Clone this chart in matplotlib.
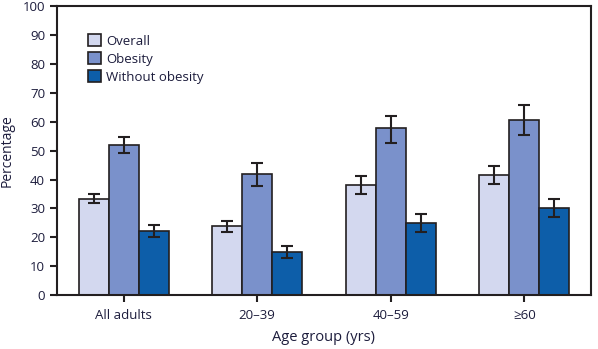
import numpy as np
import matplotlib
matplotlib.use('Agg')
from matplotlib import pyplot as plt
from matplotlib.patches import Patch

groups = ['All adults', '20\u201339', '40\u201359', '\u226560']
series = ['Overall', 'Obesity', 'Without obesity']
overall = [33.2, 24.0, 38.1, 41.5]
overall_lo = [31.8, 21.8, 34.9, 38.4]
overall_hi = [35.0, 25.7, 41.2, 44.6]
obesity = [52.1, 41.9, 57.9, 60.8]
obesity_lo = [49.1, 37.7, 52.6, 55.4]
obesity_hi = [54.7, 45.7, 61.9, 65.7]
without = [22.1, 15.0, 25.0, 30.1]
without_lo = [20.1, 12.8, 21.8, 27.0]
without_hi = [24.4, 17.0, 28.0, 33.2]

colors = ['#d3d8ef', '#7a91cb', '#0d5ea9']
txt = '#1c1c3c'
edge = '#231f20'

plt.rcParams['font.family'] = ['Open Sans', 'DejaVu Sans']

fig = plt.figure(figsize=(5.98, 3.49), dpi=100)
ax = fig.add_axes([0.0953, 0.1547, 0.8930, 0.8267])

x = np.arange(len(groups))
w = 0.225
data = [(overall, overall_lo, overall_hi),
        (obesity, obesity_lo, obesity_hi),
        (without, without_lo, without_hi)]
for i, (vals, lo, hi) in enumerate(data):
    vals = np.array(vals)
    err = [vals - np.array(lo), np.array(hi) - vals]
    ax.bar(x + (i - 1) * w, vals, w, color=colors[i], edgecolor=edge, linewidth=1.2,
           yerr=err, capsize=4.5, error_kw=dict(ecolor=edge, elinewidth=1.5, capthick=1.5),
           zorder=2)

ax.set_xlim(-0.5, 3.5)
ax.set_ylim(0, 100)
ax.set_yticks(range(0, 101, 10))
ax.set_xticks(x)
ax.set_xticklabels(groups)
for s in ax.spines.values():
    s.set_color(edge)
    s.set_linewidth(1.5)
ax.tick_params(axis='both', colors=edge, width=1.5, length=5, labelsize=9.5, labelcolor=txt)
ax.tick_params(axis='x', pad=5)
ax.set_ylabel('Percentage', fontsize=10, color=txt, labelpad=6)
ax.set_xlabel('Age group (yrs)', fontsize=10.5, color=txt, labelpad=6)

handles = [Patch(facecolor=c, edgecolor=edge, linewidth=1.2) for c in colors]
ax.legend(handles, series, loc='upper left', bbox_to_anchor=(0.035, 0.945), frameon=False,
          fontsize=9.5, labelcolor=txt, handlelength=1.0, handleheight=1.0,
          handletextpad=0.4, labelspacing=0.35)

fig.savefig('out.png', dpi=100)
